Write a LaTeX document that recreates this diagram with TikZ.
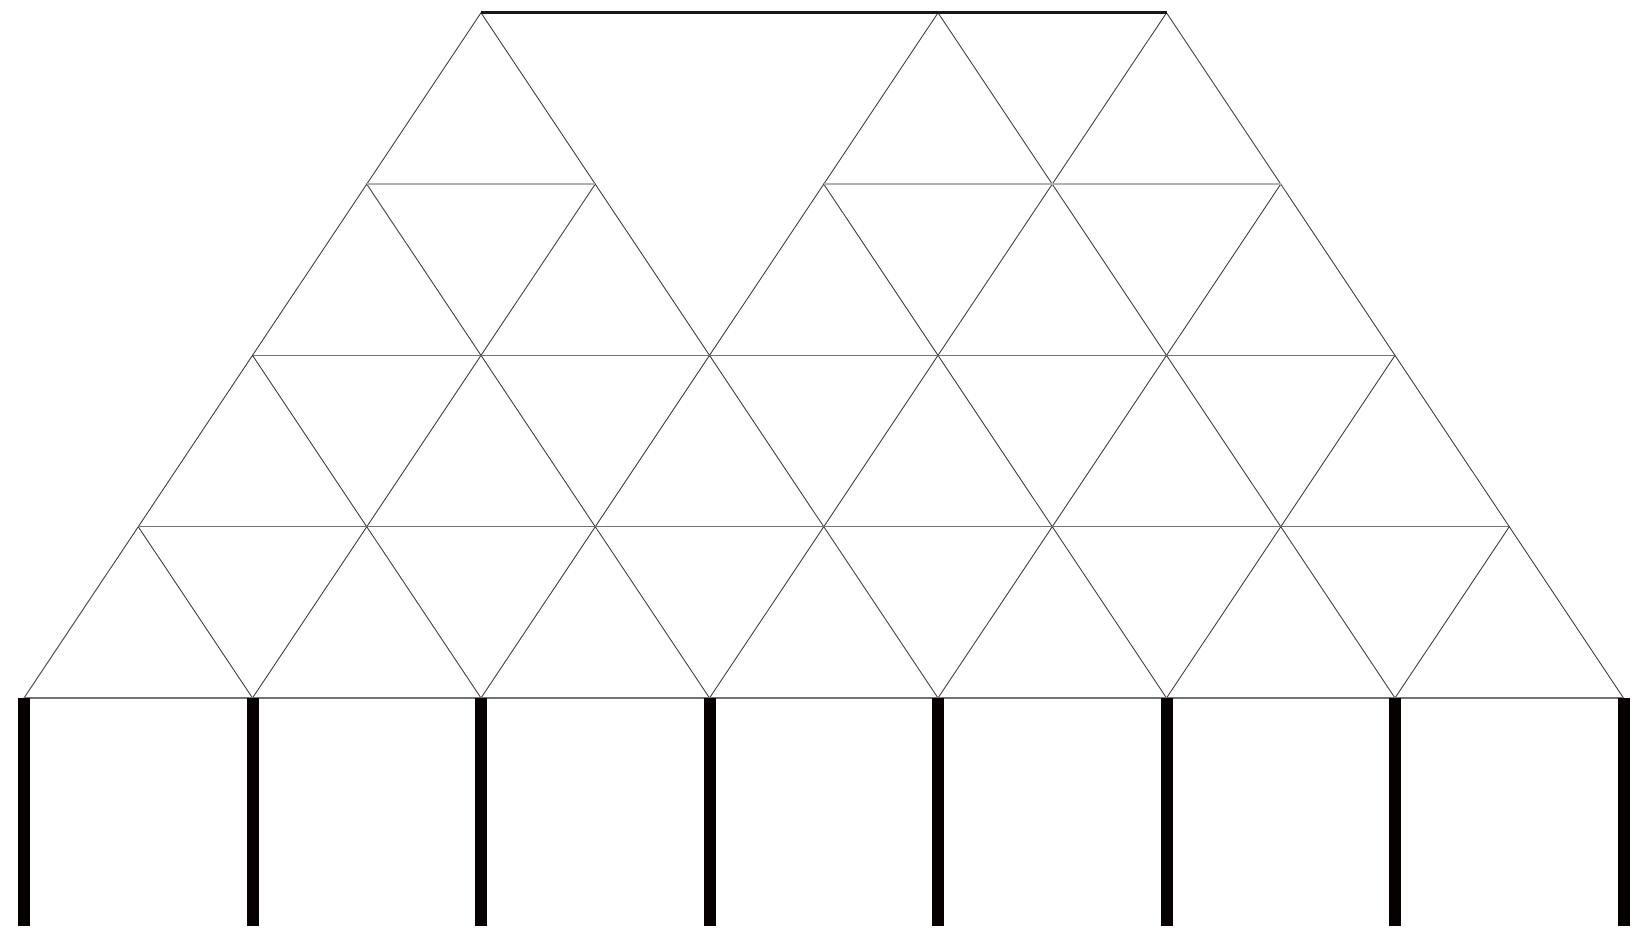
\documentclass[tikz,border=0pt]{standalone}
\begin{document}
\begin{tikzpicture}[x=0.5pt,y=-0.5pt,
  diag/.style={draw=black!75,line width=0.45pt},
  chord/.style={draw=black!55,line width=0.7pt},
  lightchord/.style={draw=black!30,line width=0.6pt},
  topchord/.style={draw=black!90,line width=1.3pt},
  post/.style={draw=black!88!red!20!black,line width=6pt}]
\useasboundingbox (0,0) rectangle (1647,946);
\def\dx{114.25}
% row 0 (bottom chord) nodes and column feet
\foreach \i in {0,...,7}{
  \coordinate (r0-\i) at ({24+2*\dx*\i},698);
  \coordinate (f\i) at ({24+2*\dx*\i},926);
}
% row 1
\foreach \i in {0,...,6}{\coordinate (r1-\i) at ({24+\dx+2*\dx*\i},526.7);}
% row 2
\foreach \i in {0,...,5}{\coordinate (r2-\i) at ({24+2*\dx+2*\dx*\i},355.4);}
% row 3
\foreach \i in {0,...,4}{\coordinate (r3-\i) at ({24+3*\dx+2*\dx*\i},184.1);}
% row 4
\coordinate (r4-0) at ({24+4*\dx},12.8);
\coordinate (r4-2) at ({24+8*\dx},12.8);
\coordinate (r4-3) at ({24+10*\dx},12.8);
% diagonals rows 0-1
\foreach \i in {0,...,6}{
  \pgfmathtruncatemacro\j{\i+1}
  \draw[diag] (r0-\i) -- (r1-\i) -- (r0-\j);
}
% diagonals rows 1-2
\foreach \i in {0,...,5}{
  \pgfmathtruncatemacro\j{\i+1}
  \draw[diag] (r1-\i) -- (r2-\i) -- (r1-\j);
}
% diagonals rows 2-3
\foreach \i in {0,...,4}{
  \pgfmathtruncatemacro\j{\i+1}
  \draw[diag] (r2-\i) -- (r3-\i) -- (r2-\j);
}
% diagonals rows 3-4
\draw[diag] (r3-0) -- (r4-0) -- (r3-1);
\draw[diag] (r3-2) -- (r4-2) -- (r3-3);
\draw[diag] (r3-3) -- (r4-3) -- (r3-4);
% horizontal chords
\draw[chord] (r0-0) -- (r0-7);
\draw[chord] (r1-0) -- (r1-6);
\draw[chord] (r2-0) -- (r2-5);
\draw[lightchord] (r3-0) -- (r3-1);
\draw[lightchord] (r3-2) -- (r3-4);
\draw[topchord] (r4-0) -- (r4-3);
% posts
\foreach \i in {0,...,7}{\draw[post] (r0-\i) -- (f\i);}
\end{tikzpicture}
\end{document}
